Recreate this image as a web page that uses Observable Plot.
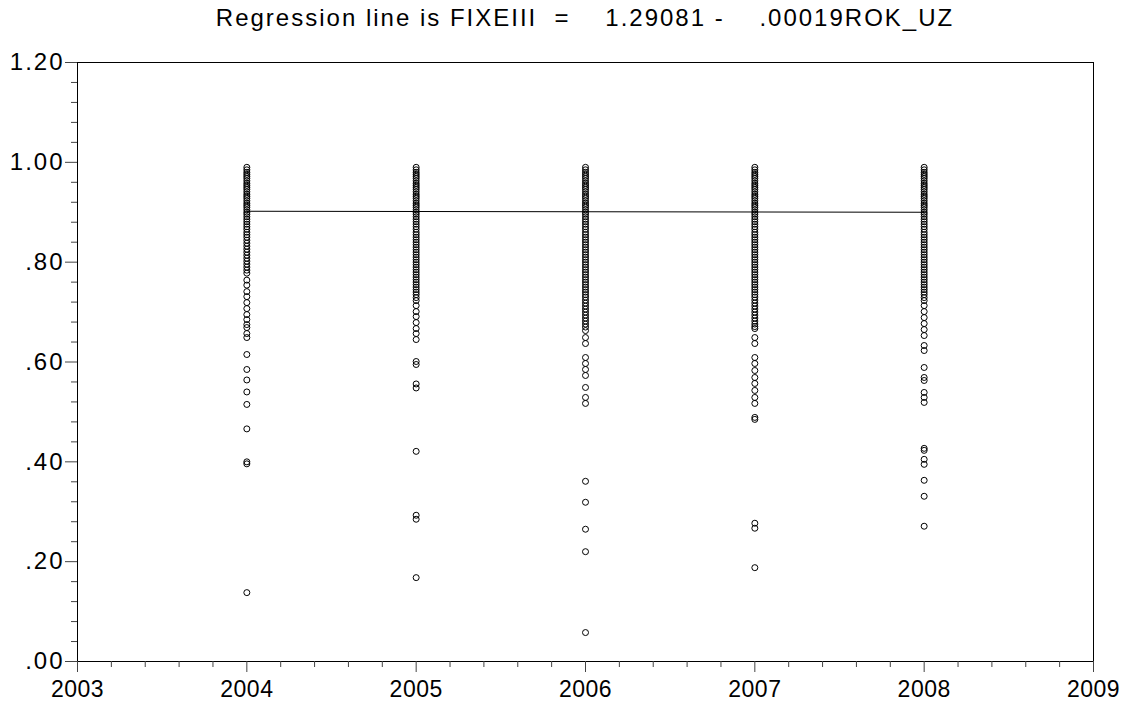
<!DOCTYPE html>
<html>
<head>
<meta charset="utf-8">
<script src="https://cdn.jsdelivr.net/npm/d3@7"></script>
<script src="https://cdn.jsdelivr.net/npm/@observablehq/plot@0.6"></script>
<style>
  body { margin: 0; background: #fff; font-family: "Liberation Sans", Arial, sans-serif; }
  #title { height: 36px; line-height: 36px; font-size: 24px; letter-spacing: 2px; text-align: center; padding-left: 49px; box-sizing: border-box; width: 1121px; white-space: pre; color: #000; overflow: hidden; }
</style>
</head>
<body>
<div id="title"></div>
<div id="chart"></div>
<script>
const titleText = "Regression line is FIXEIII  =    1.29081 -    .00019ROK_UZ";
const years = [2004, 2005, 2006, 2007, 2008];
const xTicks = [2003, 2004, 2005, 2006, 2007, 2008, 2009];
const yTicks = [0, 0.2, 0.4, 0.6, 0.8, 1.0, 1.2];

const v2004 = [0.990,0.985,0.980,0.976,0.972,0.968,0.963,0.958,0.954,0.950,0.946,0.941,0.936,0.932,0.928,0.923,0.918,0.914,0.910,0.905,0.900,0.896,0.891,0.886,0.881,0.876,0.871,0.866,0.860,0.855,0.850,0.844,0.838,0.832,0.826,0.820,0.814,0.808,0.802,0.796,0.790,0.784,0.778,
  0.764,0.754,0.741,0.731,0.719,0.707,0.695,0.685,0.675,0.669,0.657,0.649,
  0.615,0.585,0.564,0.540,0.515,0.466,0.400,0.396,0.138];
const v2005 = [0.990,0.985,0.980,0.976,0.972,0.968,0.963,0.958,0.954,0.950,0.946,0.941,0.936,0.932,0.928,0.923,0.918,0.914,0.910,0.905,0.900,0.896,0.891,0.886,0.881,0.876,0.871,0.866,0.860,0.855,0.850,0.845,0.840,0.835,0.830,0.825,0.820,0.815,0.810,0.805,0.800,0.795,0.790,0.785,0.780,0.775,0.770,0.765,0.760,0.755,0.750,0.745,0.740,0.735,0.729,
  0.723,0.713,0.701,0.691,0.679,0.667,0.657,0.645,
  0.601,0.595,0.556,0.548,0.421,0.293,0.285,0.168];
const v2006 = [0.990,0.985,0.980,0.976,0.972,0.968,0.963,0.958,0.954,0.950,0.946,0.941,0.936,0.932,0.928,0.923,0.918,0.914,0.910,0.905,0.900,0.896,0.891,0.886,0.881,0.876,0.871,0.866,0.860,0.855,0.850,0.845,0.840,0.835,0.830,0.825,0.820,0.815,0.810,0.805,0.800,0.795,0.790,0.785,0.780,0.775,0.770,0.765,0.760,0.755,0.750,0.745,0.740,0.735,0.730,0.724,0.718,0.712,0.706,0.700,0.694,0.688,0.682,0.676,0.670,0.663,
  0.649,0.637,0.609,0.597,0.585,0.573,0.549,0.529,
  0.517,0.361,0.319,0.265,0.220,0.058];
const v2007 = [0.990,0.985,0.980,0.976,0.972,0.968,0.963,0.958,0.954,0.950,0.946,0.941,0.936,0.932,0.928,0.923,0.918,0.914,0.910,0.905,0.900,0.896,0.891,0.886,0.881,0.876,0.871,0.866,0.860,0.855,0.850,0.845,0.840,0.835,0.830,0.825,0.820,0.815,0.810,0.805,0.800,0.795,0.790,0.785,0.780,0.775,0.770,0.765,0.760,0.755,0.750,0.745,0.740,0.735,0.730,0.724,0.718,0.712,0.706,0.700,0.694,0.688,0.682,0.676,0.671,0.667,
  0.649,0.637,0.609,0.597,0.583,0.569,0.557,0.543,0.529,
  0.517,0.489,0.485,0.277,0.267,0.188];
const v2008 = [0.990,0.985,0.980,0.976,0.972,0.968,0.963,0.958,0.954,0.950,0.946,0.941,0.936,0.932,0.928,0.923,0.918,0.914,0.910,0.905,0.900,0.896,0.891,0.886,0.881,0.876,0.871,0.866,0.860,0.855,0.850,0.845,0.840,0.835,0.830,0.825,0.820,0.815,0.810,0.805,0.800,0.795,0.790,0.785,0.780,0.775,0.770,0.765,0.760,0.755,0.750,0.745,0.740,0.735,0.729,0.723,
  0.713,0.701,0.689,0.677,0.665,0.653,0.633,0.623,0.589,0.569,0.563,0.539,0.529,
  0.519,0.427,0.423,0.405,0.395,0.363,0.331,0.271];

const regX = [2004, 2008];
const regY = [0.902, 0.900];

document.getElementById("title").textContent = titleText;

const series = [v2004, v2005, v2006, v2007, v2008];
const points = [];
years.forEach((yr, i) => series[i].forEach(v => points.push({year: yr, value: v})));
const regLine = regX.map((x, i) => ({x, y: regY[i]}));

const xMinor = d3.range(2003, 2009.001, 0.2).map(d => +d.toFixed(1)).filter(d => !xTicks.includes(d));
const yMinor = d3.range(0, 1.2001, 0.04).map(d => +d.toFixed(2)).filter(d => !yTicks.some(t => Math.abs(t - d) < 1e-6));

const chart = Plot.plot({
  width: 1121,
  height: 668,
  marginTop: 26,
  marginBottom: 43,
  marginLeft: 77,
  marginRight: 28,
  style: {fontFamily: "'Liberation Sans', Arial, sans-serif", fontSize: "24px", color: "#000", background: "#fff"},
  x: {domain: [2003, 2009]},
  y: {domain: [0, 1.2]},
  marks: [
    Plot.frame({stroke: "#000", strokeWidth: 1}),
    Plot.axisY({ticks: yTicks, tickSize: 12, tickPadding: 1, tickFormat: d => d >= 1 ? d.toFixed(2) : d.toFixed(2).replace(/^0/, ""), label: null, fontSize: 24, stroke: "#444"}),
    Plot.axisY({ticks: yMinor, tickSize: 6, text: null, label: null, stroke: "#444"}),
    Plot.axisX({ticks: xTicks, tickSize: 11, tickPadding: 8, tickFormat: d => String(d), label: null, fontSize: 23, stroke: "#444"}),
    Plot.axisX({ticks: xMinor, tickSize: 6, text: null, label: null, stroke: "#444"}),
    Plot.line(regLine, {x: "x", y: "y", stroke: "#000", strokeWidth: 1}),
    Plot.dot(points, {x: "year", y: "value", r: 3, stroke: "#000", strokeWidth: 1, fill: "none"})
  ]
});
chart.querySelectorAll("text").forEach(t => {
  const g = t.closest("g[aria-label]");
  const lab = g ? g.getAttribute("aria-label") : "";
  if (lab.startsWith("y-axis")) t.setAttribute("letter-spacing", "2");
  else if (lab.startsWith("x-axis")) t.setAttribute("letter-spacing", "0.5");
});
document.getElementById("chart").appendChild(chart);
</script>
</body>
</html>
